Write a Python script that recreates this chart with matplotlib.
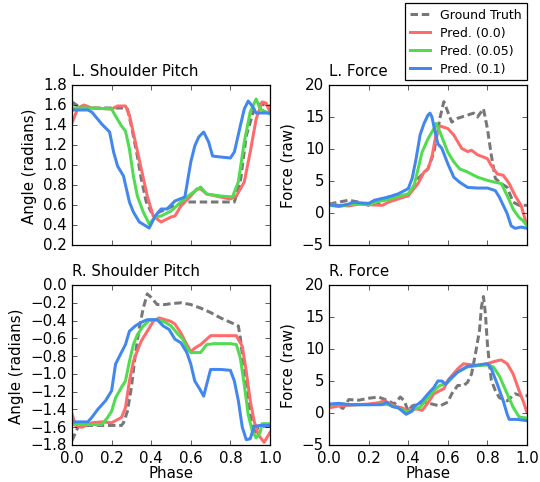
import matplotlib
matplotlib.use("Agg")
import matplotlib.pyplot as plt

# ---------------- data ----------------
phase_label = "Phase"
series_labels = ["Ground Truth", "Pred. (0.0)", "Pred. (0.05)", "Pred. (0.1)"]
panel_titles = ["L. Shoulder Pitch", "L. Force", "R. Shoulder Pitch", "R. Force"]
y_labels = ["Angle (radians)", "Force (raw)", "Angle (radians)", "Force (raw)"]

# L. Shoulder Pitch
lsp_gt_x = [0, 0.03, 0.06, 0.15, 0.25, 0.28, 0.30, 0.33, 0.35, 0.375, 0.40, 0.43, 0.50, 0.56, 0.58, 0.70, 0.82, 0.85, 0.88, 0.92, 0.95, 1.0]
lsp_gt_y = [1.63, 1.59, 1.57, 1.57, 1.57, 1.56, 1.39, 1.09, 0.86, 0.63, 0.53, 0.52, 0.58, 0.62, 0.63, 0.63, 0.63, 0.83, 1.29, 1.56, 1.61, 1.59]
lsp_p0_x = [0, 0.03, 0.06, 0.1, 0.2, 0.23, 0.27, 0.29, 0.32, 0.35, 0.38, 0.41, 0.45, 0.5, 0.52, 0.55, 0.6, 0.63, 0.65, 0.68, 0.75, 0.8, 0.83, 0.87, 0.9, 0.93, 0.96, 0.98, 1.0]
lsp_p0_y = [1.42, 1.57, 1.60, 1.57, 1.56, 1.59, 1.59, 1.50, 1.23, 0.96, 0.69, 0.49, 0.43, 0.48, 0.49, 0.59, 0.69, 0.76, 0.76, 0.71, 0.68, 0.66, 0.69, 0.83, 1.13, 1.46, 1.63, 1.62, 1.53]
lsp_p05_x = [0, 0.1, 0.2, 0.22, 0.25, 0.27, 0.29, 0.31, 0.33, 0.36, 0.39, 0.42, 0.45, 0.5, 0.55, 0.6, 0.65, 0.68, 0.75, 0.81, 0.84, 0.87, 0.9, 0.93, 0.95, 1.0]
lsp_p05_y = [1.57, 1.57, 1.56, 1.49, 1.39, 1.34, 1.16, 0.89, 0.69, 0.53, 0.41, 0.48, 0.49, 0.54, 0.63, 0.71, 0.78, 0.71, 0.69, 0.68, 0.83, 1.23, 1.53, 1.66, 1.56, 1.51]
lsp_p1_x = [0, 0.08, 0.1, 0.15, 0.19, 0.21, 0.23, 0.26, 0.29, 0.31, 0.34, 0.39, 0.42, 0.45, 0.48, 0.52, 0.57, 0.6, 0.62, 0.64, 0.665, 0.69, 0.71, 0.75, 0.8, 0.82, 0.85, 0.87, 0.89, 0.91, 0.93, 1.0]
lsp_p1_y = [1.55, 1.55, 1.53, 1.41, 1.33, 1.13, 0.99, 0.89, 0.63, 0.53, 0.43, 0.37, 0.49, 0.56, 0.56, 0.64, 0.68, 1.03, 1.19, 1.28, 1.33, 1.23, 1.09, 1.08, 1.07, 1.13, 1.39, 1.56, 1.64, 1.59, 1.52, 1.52]

# L. Force
lf_gt_x = [0, 0.05, 0.1, 0.15, 0.2, 0.25, 0.3, 0.35, 0.4, 0.45, 0.5, 0.53, 0.56, 0.58, 0.6, 0.62, 0.65, 0.7, 0.73, 0.75, 0.78, 0.8, 0.82, 0.84, 0.87, 0.9, 0.93, 0.96, 1.0]
lf_gt_y = [1.4, 1.7, 2.0, 1.7, 1.2, 1.4, 2.5, 2.5, 2.7, 5.4, 6.9, 9.5, 14.8, 17.4, 15.8, 14.2, 14.8, 15.3, 15.6, 15.0, 16.3, 13.2, 9.0, 5.4, 4.6, 4.0, 1.7, 1.2, 1.2]
lf_p0_x = [0, 0.05, 0.1, 0.15, 0.2, 0.27, 0.3, 0.35, 0.4, 0.45, 0.48, 0.5, 0.52, 0.54, 0.56, 0.6, 0.63, 0.67, 0.7, 0.72, 0.75, 0.8, 0.82, 0.85, 0.88, 0.91, 0.94, 0.97, 1.0]
lf_p0_y = [1.4, 1.2, 1.1, 1.4, 1.3, 1.2, 1.7, 2.2, 2.7, 4.6, 6.4, 6.9, 8.8, 12.2, 13.6, 13.2, 12.2, 10.1, 9.6, 9.8, 9.1, 8.5, 7.4, 6.1, 5.9, 4.6, 2.7, 1.2, -2.0]
lf_p05_x = [0, 0.05, 0.1, 0.15, 0.2, 0.25, 0.3, 0.35, 0.4, 0.43, 0.45, 0.47, 0.5, 0.53, 0.54, 0.56, 0.58, 0.6, 0.63, 0.66, 0.7, 0.75, 0.8, 0.84, 0.87, 0.9, 0.93, 0.96, 0.98, 1.0]
lf_p05_y = [1.2, 1.0, 1.3, 1.4, 1.3, 1.8, 2.1, 2.6, 3.0, 4.3, 6.9, 9.5, 11.6, 13.2, 14.0, 12.7, 11.1, 9.5, 8.0, 6.9, 6.4, 5.6, 5.1, 4.8, 4.6, 2.7, 0.6, -0.7, -1.2, -2.0]
lf_p1_x = [0, 0.05, 0.1, 0.12, 0.15, 0.2, 0.23, 0.3, 0.35, 0.4, 0.42, 0.44, 0.46, 0.48, 0.5, 0.51, 0.52, 0.53, 0.55, 0.57, 0.6, 0.63, 0.66, 0.7, 0.75, 0.8, 0.84, 0.86, 0.9, 0.92, 0.94, 0.97, 1.0]
lf_p1_y = [1.3, 1.1, 1.4, 1.7, 1.6, 1.5, 2.0, 2.5, 3.0, 3.8, 5.4, 8.5, 12.2, 14.0, 15.3, 15.6, 15.0, 13.5, 10.8, 10.1, 7.7, 5.6, 4.8, 4.0, 3.9, 3.9, 3.5, 2.5, -0.1, -2.0, -2.4, -2.2, -2.4]

# R. Shoulder Pitch
rsp_gt_x = [0, 0.03, 0.05, 0.25, 0.26, 0.28, 0.30, 0.32, 0.34, 0.36, 0.38, 0.40, 0.43, 0.47, 0.5, 0.55, 0.6, 0.65, 0.7, 0.75, 0.8, 0.84, 0.85, 0.86, 0.88, 0.9, 0.92, 0.94, 0.97, 1.0]
rsp_gt_y = [-1.75, -1.6, -1.58, -1.58, -1.55, -1.42, -1.15, -0.78, -0.48, -0.26, -0.10, -0.14, -0.22, -0.22, -0.21, -0.20, -0.22, -0.26, -0.31, -0.37, -0.42, -0.46, -0.59, -0.78, -1.08, -1.46, -1.68, -1.60, -1.59, -1.59]
rsp_p0_x = [0, 0.02, 0.05, 0.1, 0.15, 0.2, 0.25, 0.27, 0.29, 0.31, 0.33, 0.35, 0.38, 0.41, 0.44, 0.47, 0.5, 0.52, 0.55, 0.58, 0.6, 0.62, 0.65, 0.68, 0.7, 0.75, 0.8, 0.83, 0.86, 0.88, 0.9, 0.92, 0.94, 0.97, 1.0]
rsp_p0_y = [-1.45, -1.59, -1.60, -1.55, -1.54, -1.55, -1.49, -1.38, -1.08, -0.86, -0.74, -0.63, -0.52, -0.41, -0.37, -0.39, -0.41, -0.44, -0.54, -0.67, -0.75, -0.71, -0.67, -0.61, -0.57, -0.57, -0.57, -0.57, -0.69, -0.97, -1.30, -1.53, -1.68, -1.77, -1.66]
rsp_p05_x = [0, 0.15, 0.18, 0.2, 0.22, 0.25, 0.27, 0.29, 0.31, 0.33, 0.36, 0.39, 0.43, 0.47, 0.5, 0.53, 0.56, 0.58, 0.6, 0.65, 0.68, 0.72, 0.8, 0.83, 0.85, 0.87, 0.89, 0.91, 0.93, 0.95, 0.96, 1.0]
rsp_p05_y = [-1.57, -1.57, -1.49, -1.42, -1.27, -1.15, -1.08, -0.86, -0.67, -0.56, -0.46, -0.40, -0.39, -0.42, -0.46, -0.54, -0.61, -0.71, -0.76, -0.76, -0.67, -0.66, -0.66, -0.67, -0.82, -1.12, -1.46, -1.64, -1.72, -1.66, -1.56, -1.56]
rsp_p1_x = [0, 0.08, 0.1, 0.13, 0.17, 0.2, 0.22, 0.24, 0.27, 0.29, 0.32, 0.35, 0.38, 0.4, 0.43, 0.46, 0.49, 0.52, 0.55, 0.58, 0.6, 0.62, 0.645, 0.665, 0.68, 0.7, 0.75, 0.8, 0.82, 0.84, 0.86, 0.88, 0.9, 0.92, 0.95, 1.0]
rsp_p1_y = [-1.54, -1.54, -1.49, -1.40, -1.30, -1.19, -0.89, -0.80, -0.67, -0.52, -0.46, -0.42, -0.39, -0.39, -0.39, -0.46, -0.50, -0.61, -0.65, -0.76, -0.89, -1.08, -1.17, -1.25, -1.12, -0.95, -0.95, -0.96, -1.08, -1.30, -1.60, -1.74, -1.73, -1.59, -1.58, -1.58]

# R. Force
rf_gt_x = [0, 0.05, 0.07, 0.1, 0.15, 0.2, 0.25, 0.3, 0.33, 0.36, 0.38, 0.4, 0.42, 0.45, 0.48, 0.52, 0.56, 0.6, 0.62, 0.65, 0.68, 0.7, 0.72, 0.74, 0.76, 0.77, 0.78, 0.79, 0.8, 0.81, 0.82, 0.84, 0.86, 0.9, 0.94, 0.97, 1.0]
rf_gt_y = [1.0, 1.1, 0.7, 2.1, 2.0, 2.3, 2.5, 1.9, 1.4, 2.5, 1.9, 0.3, 1.1, 1.4, 1.7, 1.4, 1.1, 1.7, 3.0, 4.3, 4.3, 4.8, 6.1, 9.3, 12.9, 16.6, 18.2, 15.5, 10.8, 7.7, 5.1, 3.5, 2.4, 1.9, 3.0, 2.7, 2.7]
rf_p0_x = [0, 0.05, 0.1, 0.2, 0.25, 0.28, 0.3, 0.33, 0.37, 0.4, 0.42, 0.45, 0.47, 0.5, 0.53, 0.56, 0.58, 0.6, 0.65, 0.68, 0.7, 0.75, 0.8, 0.84, 0.87, 0.9, 0.93, 0.96, 0.98, 1.0]
rf_p0_y = [0.8, 1.1, 1.2, 1.4, 1.6, 1.9, 1.6, 1.1, 0.8, 0.3, 0.6, 0.6, 0.4, 1.6, 3.0, 3.5, 3.8, 5.1, 6.9, 7.7, 7.6, 7.4, 7.7, 8.1, 8.3, 7.7, 6.1, 3.5, 1.9, 0.1]
rf_p05_x = [0, 0.05, 0.1, 0.2, 0.27, 0.3, 0.35, 0.4, 0.43, 0.46, 0.5, 0.53, 0.56, 0.58, 0.6, 0.65, 0.7, 0.75, 0.8, 0.83, 0.86, 0.9, 0.93, 0.96, 1.0]
rf_p05_y = [1.2, 1.5, 1.3, 1.3, 1.4, 1.3, 0.8, 0.1, 0.6, 0.9, 2.4, 3.5, 4.3, 4.5, 4.8, 6.4, 7.2, 7.4, 7.5, 7.2, 5.8, 3.0, 0.9, -0.6, -0.8]
rf_p1_x = [0, 0.05, 0.1, 0.2, 0.27, 0.29, 0.32, 0.35, 0.37, 0.39, 0.42, 0.43, 0.45, 0.47, 0.5, 0.53, 0.55, 0.57, 0.59, 0.61, 0.65, 0.7, 0.75, 0.8, 0.82, 0.85, 0.88, 0.9, 0.91, 0.95, 1.0]
rf_p1_y = [1.4, 1.5, 1.3, 1.3, 1.3, 1.7, 1.0, 0.8, 0.3, -0.2, 0.3, 1.0, 1.4, 1.9, 3.0, 4.0, 5.0, 5.0, 4.5, 5.3, 6.4, 7.3, 7.5, 7.7, 6.9, 4.5, 1.9, -0.2, -1.0, -1.0, -1.2]

y_limits = [(0.2, 1.8), (-5, 20), (-1.8, 0.0), (-5, 20)]
y_ticks = [[0.2, 0.4, 0.6, 0.8, 1.0, 1.2, 1.4, 1.6, 1.8],
           [-5, 0, 5, 10, 15, 20],
           [-1.8, -1.6, -1.4, -1.2, -1.0, -0.8, -0.6, -0.4, -0.2, 0.0],
           [-5, 0, 5, 10, 15, 20]]
x_ticks = [0.0, 0.2, 0.4, 0.6, 0.8, 1.0]

# ---------------- style ----------------
plt.style.use("classic")
plt.rcParams.update({
    "figure.facecolor": "white",
    "savefig.facecolor": "white",
    "font.family": "DejaVu Sans",
    "font.size": 12,
    "axes.linewidth": 1.0,
})

colors = ["#777777", "#ff6b6b", "#4fdc4f", "#4286f0"]
lw = 2.4

fig = plt.figure(figsize=(6.0, 483 / 90), dpi=90)
W, H = 540.0, 483.0
rects_px = [(72, 86, 270, 246), (329, 86, 527, 246), (72, 286, 270, 446), (329, 286, 527, 446)]

panels = [
    [(lsp_gt_x, lsp_gt_y), (lsp_p0_x, lsp_p0_y), (lsp_p05_x, lsp_p05_y), (lsp_p1_x, lsp_p1_y)],
    [(lf_gt_x, lf_gt_y), (lf_p0_x, lf_p0_y), (lf_p05_x, lf_p05_y), (lf_p1_x, lf_p1_y)],
    [(rsp_gt_x, rsp_gt_y), (rsp_p0_x, rsp_p0_y), (rsp_p05_x, rsp_p05_y), (rsp_p1_x, rsp_p1_y)],
    [(rf_gt_x, rf_gt_y), (rf_p0_x, rf_p0_y), (rf_p05_x, rf_p05_y), (rf_p1_x, rf_p1_y)],
]

handles = []
for i, (l, t, r, b) in enumerate(rects_px):
    ax = fig.add_axes([l / W, 1 - b / H, (r - l) / W, (b - t) / H])
    for j, (xs, ys) in enumerate(panels[i]):
        if j == 0:
            ln, = ax.plot(xs, ys, color=colors[j], lw=lw, dashes=(6, 3), label=series_labels[j])
        else:
            ln, = ax.plot(xs, ys, color=colors[j], lw=lw, label=series_labels[j])
        if i == 0:
            handles.append(ln)
    ax.set_xlim(0, 1)
    ax.set_ylim(*y_limits[i])
    ax.set_yticks(y_ticks[i])
    ax.set_xticks(x_ticks)
    ax.set_title(panel_titles[i], loc="left", fontsize=12, pad=8)
    ax.set_ylabel(y_labels[i], fontsize=12)
    if i >= 2:
        ax.set_xlabel(phase_label, fontsize=12, labelpad=0)
    else:
        ax.set_xticklabels([])
    ax.tick_params(labelsize=12)

fig.legend(handles, series_labels, loc="upper right",
           bbox_to_anchor=(527 / W, 1 - 4 / H), borderaxespad=0,
           fontsize=10, handlelength=1.6, numpoints=1, fancybox=False,
           borderpad=0.4, labelspacing=0.4, handletextpad=0.8)

fig.savefig("out.png", dpi=90)
